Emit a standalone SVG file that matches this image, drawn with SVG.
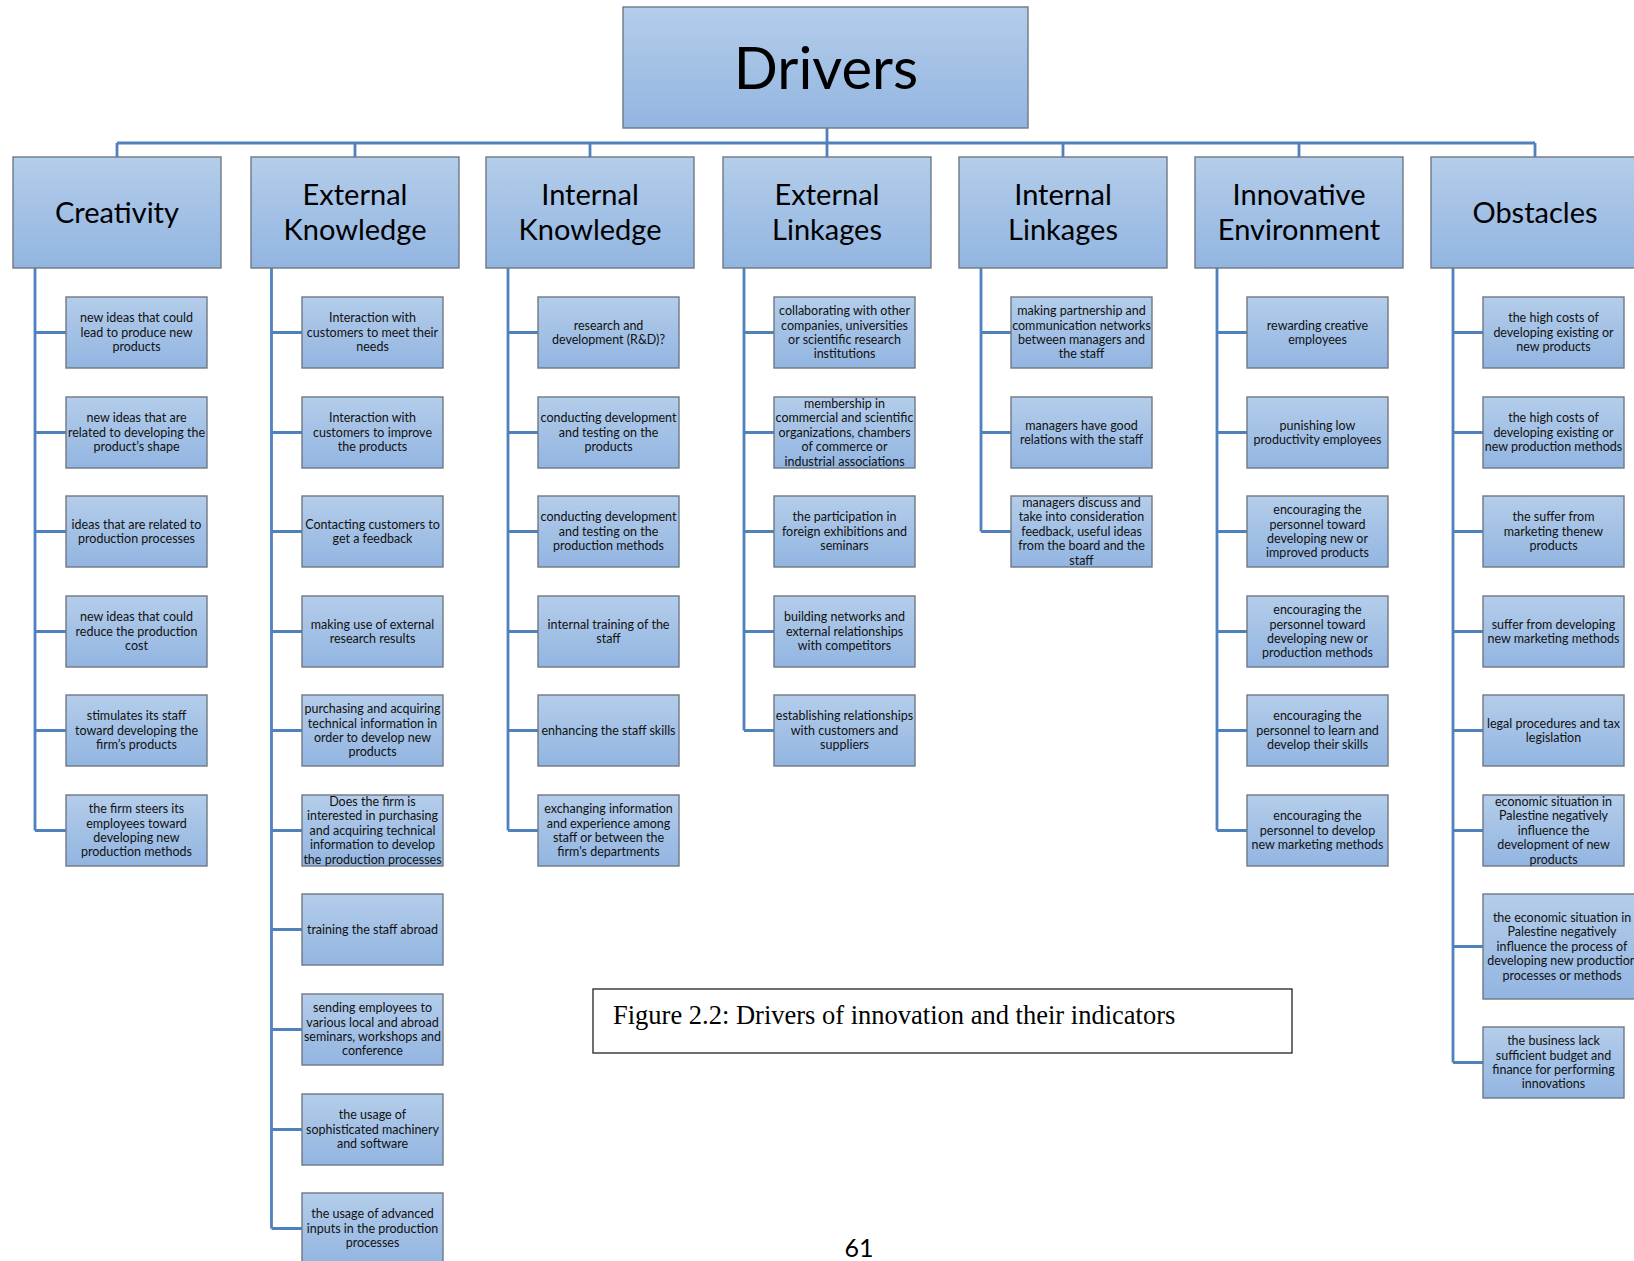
<svg xmlns="http://www.w3.org/2000/svg" width="1634" height="1261" viewBox="0 0 1634 1261">
<defs>
<linearGradient id="g" x1="0" y1="0" x2="0" y2="1">
<stop offset="0" stop-color="#b4cdea"/>
<stop offset="1" stop-color="#92b5e1"/>
</linearGradient>
<style>
.bx{fill:url(#g);stroke:#6f7884;stroke-width:1.4}
.t{font-family:Lato,"Liberation Sans",sans-serif;font-size:12.5px;fill:#111;text-anchor:middle}
.h{font-family:Lato,"Liberation Sans",sans-serif;font-size:29px;fill:#000;text-anchor:middle}
.c{fill:none;stroke:#4f81bd;stroke-width:2.8}
</style>
</defs>
<rect width="1634" height="1261" fill="#fff"/>
<g id="connectors" class="c">
<path d="M827 128V143M117 143H1535M117 143V157M355 143V157M590 143V157M827 143V157M1063 143V157M1299 143V157M1535 143V157"/>
<path d="M35 268V830.5M35 332.5H66M35 432.5H66M35 531.5H66M35 631.5H66M35 730.5H66M35 830.5H66"/>
<path d="M271.5 268V1228.5M271.5 332.5H302M271.5 432.5H302M271.5 531.5H302M271.5 631.5H302M271.5 730.5H302M271.5 830.5H302M271.5 929.5H302M271.5 1029.5H302M271.5 1129.5H302M271.5 1228.5H302"/>
<path d="M508 268V830.5M508 332.5H538M508 432.5H538M508 531.5H538M508 631.5H538M508 730.5H538M508 830.5H538"/>
<path d="M744 268V730.5M744 332.5H774M744 432.5H774M744 531.5H774M744 631.5H774M744 730.5H774"/>
<path d="M981 268V531.5M981 332.5H1011M981 432.5H1011M981 531.5H1011"/>
<path d="M1217 268V830.5M1217 332.5H1247M1217 432.5H1247M1217 531.5H1247M1217 631.5H1247M1217 730.5H1247M1217 830.5H1247"/>
<path d="M1453 268V1062.5M1453 332.5H1483M1453 432.5H1483M1453 531.5H1483M1453 631.5H1483M1453 730.5H1483M1453 830.5H1483M1453 946.5H1483M1453 1062.5H1483"/>
</g>
<g id="drivers"><rect class="bx" x="623" y="7" width="405" height="121"/><text class="h" style="font-size:58px" x="826" y="89">Drivers</text></g>

<g id="creativity"><rect class="bx" x="13" y="157" width="208" height="111"/><text class="h" x="117" y="223">Creativity</text></g>
<g id="external-knowledge"><rect class="bx" x="251" y="157" width="208" height="111"/><text class="h" x="355" y="205">External<tspan x="355" dy="35">Knowledge</tspan></text></g>
<g id="internal-knowledge"><rect class="bx" x="486" y="157" width="208" height="111"/><text class="h" x="590" y="205">Internal<tspan x="590" dy="35">Knowledge</tspan></text></g>
<g id="external-linkages"><rect class="bx" x="723" y="157" width="208" height="111"/><text class="h" x="827" y="205">External<tspan x="827" dy="35">Linkages</tspan></text></g>
<g id="internal-linkages"><rect class="bx" x="959" y="157" width="208" height="111"/><text class="h" x="1063" y="205">Internal<tspan x="1063" dy="35">Linkages</tspan></text></g>
<g id="innovative-environment"><rect class="bx" x="1195" y="157" width="208" height="111"/><text class="h" x="1299" y="205">Innovative<tspan x="1299" dy="35">Environment</tspan></text></g>
<g id="obstacles"><rect class="bx" x="1431" y="157" width="208" height="111"/><text class="h" x="1535" y="223">Obstacles</text></g>

<g id="c1"><rect class="bx" x="66" y="297" width="141" height="71"/><text class="t" x="136.5" y="322.4">new ideas  that could<tspan x="136.5" dy="14.4">lead to produce new</tspan><tspan x="136.5" dy="14.4">products</tspan></text></g>
<g id="c2"><rect class="bx" x="66" y="397" width="141" height="71"/><text class="t" x="136.5" y="422.4">new ideas that are<tspan x="136.5" dy="14.4">related to developing the</tspan><tspan x="136.5" dy="14.4">product’s shape</tspan></text></g>
<g id="c3"><rect class="bx" x="66" y="496" width="141" height="71"/><text class="t" x="136.5" y="528.6">ideas that are related to<tspan x="136.5" dy="14.4">production processes</tspan></text></g>
<g id="c4"><rect class="bx" x="66" y="596" width="141" height="71"/><text class="t" x="136.5" y="621.4">new ideas that could<tspan x="136.5" dy="14.4">reduce the production</tspan><tspan x="136.5" dy="14.4">cost</tspan></text></g>
<g id="c5"><rect class="bx" x="66" y="695" width="141" height="71"/><text class="t" x="136.5" y="720.4">stimulates its staff<tspan x="136.5" dy="14.4">toward developing the</tspan><tspan x="136.5" dy="14.4">firm’s products</tspan></text></g>
<g id="c6"><rect class="bx" x="66" y="795" width="141" height="71"/><text class="t" x="136.5" y="813.2">the firm steers its<tspan x="136.5" dy="14.4">employees toward</tspan><tspan x="136.5" dy="14.4">developing new</tspan><tspan x="136.5" dy="14.4">production methods</tspan></text></g>

<g id="ek1"><rect class="bx" x="302" y="297" width="141" height="71"/><text class="t" x="372.5" y="322.4">Interaction with<tspan x="372.5" dy="14.4">customers to meet their</tspan><tspan x="372.5" dy="14.4">needs</tspan></text></g>
<g id="ek2"><rect class="bx" x="302" y="397" width="141" height="71"/><text class="t" x="372.5" y="422.4">Interaction with<tspan x="372.5" dy="14.4">customers to improve</tspan><tspan x="372.5" dy="14.4">the products</tspan></text></g>
<g id="ek3"><rect class="bx" x="302" y="496" width="141" height="71"/><text class="t" x="372.5" y="528.6">Contacting customers to<tspan x="372.5" dy="14.4">get a feedback</tspan></text></g>
<g id="ek4"><rect class="bx" x="302" y="596" width="141" height="71"/><text class="t" x="372.5" y="628.6">making use of external<tspan x="372.5" dy="14.4">research results</tspan></text></g>
<g id="ek5"><rect class="bx" x="302" y="695" width="141" height="71"/><text class="t" x="372.5" y="713.2">purchasing and acquiring<tspan x="372.5" dy="14.4">technical information in</tspan><tspan x="372.5" dy="14.4">order to develop new</tspan><tspan x="372.5" dy="14.4">products</tspan></text></g>
<g id="ek6"><rect class="bx" x="302" y="795" width="141" height="71"/><text class="t" x="372.5" y="806">Does the firm is<tspan x="372.5" dy="14.4">interested in purchasing</tspan><tspan x="372.5" dy="14.4">and acquiring technical</tspan><tspan x="372.5" dy="14.4">information to develop</tspan><tspan x="372.5" dy="14.4">the production processes</tspan></text></g>
<g id="ek7"><rect class="bx" x="302" y="894" width="141" height="71"/><text class="t" x="372.5" y="933.8">training the staff abroad</text></g>
<g id="ek8"><rect class="bx" x="302" y="994" width="141" height="71"/><text class="t" x="372.5" y="1012.2">sending employees to<tspan x="372.5" dy="14.4">various local and abroad</tspan><tspan x="372.5" dy="14.4">seminars, workshops and</tspan><tspan x="372.5" dy="14.4">conference</tspan></text></g>
<g id="ek9"><rect class="bx" x="302" y="1094" width="141" height="71"/><text class="t" x="372.5" y="1119.4">the usage of<tspan x="372.5" dy="14.4">sophisticated machinery</tspan><tspan x="372.5" dy="14.4">and software</tspan></text></g>
<g id="ek10"><rect class="bx" x="302" y="1193" width="141" height="71"/><text class="t" x="372.5" y="1218.4">the usage of advanced<tspan x="372.5" dy="14.4">inputs in the production</tspan><tspan x="372.5" dy="14.4">processes</tspan></text></g>

<g id="ik1"><rect class="bx" x="538" y="297" width="141" height="71"/><text class="t" x="608.5" y="329.6">research and<tspan x="608.5" dy="14.4">development (R&amp;D)?</tspan></text></g>
<g id="ik2"><rect class="bx" x="538" y="397" width="141" height="71"/><text class="t" x="608.5" y="422.4">conducting development<tspan x="608.5" dy="14.4">and testing on the</tspan><tspan x="608.5" dy="14.4">products</tspan></text></g>
<g id="ik3"><rect class="bx" x="538" y="496" width="141" height="71"/><text class="t" x="608.5" y="521.4">conducting development<tspan x="608.5" dy="14.4">and testing on the</tspan><tspan x="608.5" dy="14.4">production methods</tspan></text></g>
<g id="ik4"><rect class="bx" x="538" y="596" width="141" height="71"/><text class="t" x="608.5" y="628.6">internal training of the<tspan x="608.5" dy="14.4">staff</tspan></text></g>
<g id="ik5"><rect class="bx" x="538" y="695" width="141" height="71"/><text class="t" x="608.5" y="734.8">enhancing the staff skills</text></g>
<g id="ik6"><rect class="bx" x="538" y="795" width="141" height="71"/><text class="t" x="608.5" y="813.2">exchanging information<tspan x="608.5" dy="14.4">and experience among</tspan><tspan x="608.5" dy="14.4">staff or between the</tspan><tspan x="608.5" dy="14.4">firm's departments</tspan></text></g>

<g id="el1"><rect class="bx" x="774" y="297" width="141" height="71"/><text class="t" x="844.5" y="315.2">collaborating with other<tspan x="844.5" dy="14.4">companies, universities</tspan><tspan x="844.5" dy="14.4">or scientific research</tspan><tspan x="844.5" dy="14.4">institutions</tspan></text></g>
<g id="el2"><rect class="bx" x="774" y="397" width="141" height="71"/><text class="t" x="844.5" y="408">membership in<tspan x="844.5" dy="14.4">commercial and scientific</tspan><tspan x="844.5" dy="14.4">organizations, chambers</tspan><tspan x="844.5" dy="14.4">of commerce or</tspan><tspan x="844.5" dy="14.4">industrial associations</tspan></text></g>
<g id="el3"><rect class="bx" x="774" y="496" width="141" height="71"/><text class="t" x="844.5" y="521.4">the participation in<tspan x="844.5" dy="14.4">foreign exhibitions and</tspan><tspan x="844.5" dy="14.4">seminars</tspan></text></g>
<g id="el4"><rect class="bx" x="774" y="596" width="141" height="71"/><text class="t" x="844.5" y="621.4">building networks and<tspan x="844.5" dy="14.4">external relationships</tspan><tspan x="844.5" dy="14.4">with competitors</tspan></text></g>
<g id="el5"><rect class="bx" x="774" y="695" width="141" height="71"/><text class="t" x="844.5" y="720.4">establishing relationships<tspan x="844.5" dy="14.4">with customers and</tspan><tspan x="844.5" dy="14.4">suppliers</tspan></text></g>

<g id="il1"><rect class="bx" x="1011" y="297" width="141" height="71"/><text class="t" x="1081.5" y="315.2">making partnership and<tspan x="1081.5" dy="14.4">communication networks</tspan><tspan x="1081.5" dy="14.4">between managers and</tspan><tspan x="1081.5" dy="14.4">the staff</tspan></text></g>
<g id="il2"><rect class="bx" x="1011" y="397" width="141" height="71"/><text class="t" x="1081.5" y="429.6">managers have good<tspan x="1081.5" dy="14.4">relations with the staff</tspan></text></g>
<g id="il3"><rect class="bx" x="1011" y="496" width="141" height="71"/><text class="t" x="1081.5" y="507">managers discuss and<tspan x="1081.5" dy="14.4">take into consideration</tspan><tspan x="1081.5" dy="14.4">feedback, useful ideas</tspan><tspan x="1081.5" dy="14.4">from the board and the</tspan><tspan x="1081.5" dy="14.4">staff</tspan></text></g>

<g id="ie1"><rect class="bx" x="1247" y="297" width="141" height="71"/><text class="t" x="1317.5" y="329.6">rewarding creative<tspan x="1317.5" dy="14.4">employees</tspan></text></g>
<g id="ie2"><rect class="bx" x="1247" y="397" width="141" height="71"/><text class="t" x="1317.5" y="429.6">punishing low<tspan x="1317.5" dy="14.4">productivity employees</tspan></text></g>
<g id="ie3"><rect class="bx" x="1247" y="496" width="141" height="71"/><text class="t" x="1317.5" y="514.2">encouraging the<tspan x="1317.5" dy="14.4">personnel toward</tspan><tspan x="1317.5" dy="14.4">developing new or</tspan><tspan x="1317.5" dy="14.4">improved products</tspan></text></g>
<g id="ie4"><rect class="bx" x="1247" y="596" width="141" height="71"/><text class="t" x="1317.5" y="614.2">encouraging the<tspan x="1317.5" dy="14.4">personnel toward</tspan><tspan x="1317.5" dy="14.4">developing new or</tspan><tspan x="1317.5" dy="14.4">production methods</tspan></text></g>
<g id="ie5"><rect class="bx" x="1247" y="695" width="141" height="71"/><text class="t" x="1317.5" y="720.4">encouraging the<tspan x="1317.5" dy="14.4">personnel to learn and</tspan><tspan x="1317.5" dy="14.4">develop their skills</tspan></text></g>
<g id="ie6"><rect class="bx" x="1247" y="795" width="141" height="71"/><text class="t" x="1317.5" y="820.4">encouraging the<tspan x="1317.5" dy="14.4">personnel to develop</tspan><tspan x="1317.5" dy="14.4">new marketing methods</tspan></text></g>

<g id="ob1"><rect class="bx" x="1483" y="297" width="141" height="71"/><text class="t" x="1553.5" y="322.4">the high costs of<tspan x="1553.5" dy="14.4">developing existing or</tspan><tspan x="1553.5" dy="14.4">new products</tspan></text></g>
<g id="ob2"><rect class="bx" x="1483" y="397" width="141" height="71"/><text class="t" x="1553.5" y="422.4">the high costs of<tspan x="1553.5" dy="14.4">developing existing or</tspan><tspan x="1553.5" dy="14.4">new production methods</tspan></text></g>
<g id="ob3"><rect class="bx" x="1483" y="496" width="141" height="71"/><text class="t" x="1553.5" y="521.4">the suffer from<tspan x="1553.5" dy="14.4">marketing thenew</tspan><tspan x="1553.5" dy="14.4">products</tspan></text></g>
<g id="ob4"><rect class="bx" x="1483" y="596" width="141" height="71"/><text class="t" x="1553.5" y="628.6">suffer from developing<tspan x="1553.5" dy="14.4">new marketing methods</tspan></text></g>
<g id="ob5"><rect class="bx" x="1483" y="695" width="141" height="71"/><text class="t" x="1553.5" y="727.6">legal procedures and tax<tspan x="1553.5" dy="14.4">legislation</tspan></text></g>
<g id="ob6"><rect class="bx" x="1483" y="795" width="141" height="71"/><text class="t" x="1553.5" y="806">economic situation in<tspan x="1553.5" dy="14.4">Palestine negatively</tspan><tspan x="1553.5" dy="14.4">influence the</tspan><tspan x="1553.5" dy="14.4">development of new</tspan><tspan x="1553.5" dy="14.4">products</tspan></text></g>
<g id="ob7"><rect class="bx" x="1483" y="894" width="158" height="105"/><text class="t" x="1562" y="922">the economic situation in<tspan x="1562" dy="14.4">Palestine negatively</tspan><tspan x="1562" dy="14.4">influence the process of</tspan><tspan x="1562" dy="14.4">developing new production</tspan><tspan x="1562" dy="14.4">processes or methods</tspan></text></g>
<g id="ob8"><rect class="bx" x="1483" y="1027" width="141" height="71"/><text class="t" x="1553.5" y="1045.2">the business lack<tspan x="1553.5" dy="14.4">sufficient budget and</tspan><tspan x="1553.5" dy="14.4">finance for performing</tspan><tspan x="1553.5" dy="14.4">innovations</tspan></text></g>

<g id="caption"><rect x="593" y="989" width="699" height="64" fill="#fff" stroke="#222" stroke-width="1.3"/><text x="613" y="1024" style="font-family:'Liberation Serif',serif;font-size:26.5px" fill="#000">Figure 2.2: Drivers of innovation and their indicators</text></g>
<text x="859" y="1257" text-anchor="middle" style="font-family:Lato,'Liberation Sans',sans-serif;font-size:25px" fill="#000">61</text>
</svg>
